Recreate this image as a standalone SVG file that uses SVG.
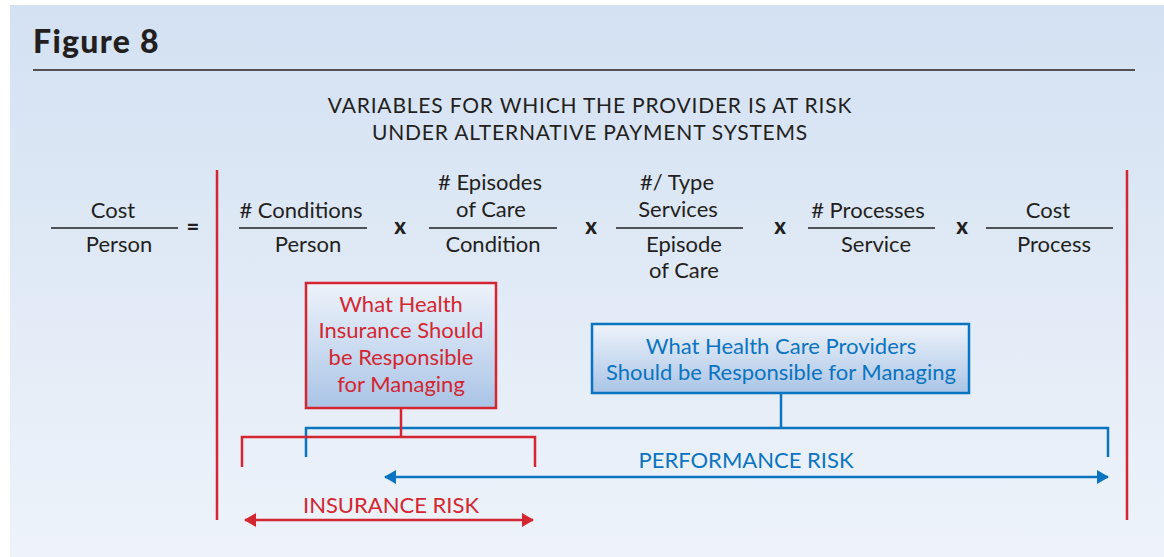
<svg xmlns="http://www.w3.org/2000/svg" width="1164" height="557" viewBox="0 0 1164 557">
<defs>
<linearGradient id="bg" x1="0" y1="0" x2="0" y2="1">
<stop offset="0" stop-color="#d3e1f2"/>
<stop offset="1" stop-color="#eef3fa"/>
</linearGradient>
<linearGradient id="boxfill" x1="0" y1="0" x2="0" y2="1">
<stop offset="0" stop-color="#eef3fb"/>
<stop offset="1" stop-color="#a9c4e6"/>
</linearGradient>
<marker id="redHead" viewBox="0 0 12 14" refX="11" refY="7" markerWidth="12" markerHeight="14" markerUnits="userSpaceOnUse" orient="auto-start-reverse">
<path d="M0,0 L12,7 L0,14 Z" fill="#d42630"/>
</marker>
<marker id="blueHead" viewBox="0 0 12 14" refX="11" refY="7" markerWidth="12" markerHeight="14" markerUnits="userSpaceOnUse" orient="auto-start-reverse">
<path d="M0,0 L12,7 L0,14 Z" fill="#0b74c0"/>
</marker>
</defs>
<style>
text{font-family:"Lato","Open Sans","Liberation Sans",sans-serif;}
.eq{font-size:22px;fill:#231f20;text-anchor:middle;}
.op{font-size:22px;font-weight:900;fill:#231f20;text-anchor:middle;}
.frac{stroke:#231f20;stroke-width:1.5;}
.red{stroke:#d42630;stroke-width:2.5;fill:none;}
.blue{stroke:#0b74c0;stroke-width:2.5;fill:none;}
.rt{fill:#d42630;font-size:22px;text-anchor:middle;}
.bt{fill:#0b74c0;font-size:22px;text-anchor:middle;}
</style>
<rect x="0" y="0" width="1164" height="557" fill="#ffffff"/>
<rect x="10" y="5" width="1154" height="552" fill="url(#bg)"/>
<text x="33" y="53" font-size="32" font-weight="900" fill="#231f20" letter-spacing="1.3">Figure 8</text>
<line x1="33" y1="70" x2="1135" y2="70" stroke="#231f20" stroke-width="1.5"/>
<text x="590" y="113" font-size="21" fill="#231f20" text-anchor="middle" letter-spacing="0.8">VARIABLES FOR WHICH THE PROVIDER IS AT RISK</text>
<text x="590" y="140" font-size="21" fill="#231f20" text-anchor="middle" letter-spacing="0.8">UNDER ALTERNATIVE PAYMENT SYSTEMS</text>

<g id="bounds">
<line class="red" x1="217" y1="170" x2="217" y2="520"/>
<line class="red" x1="1127" y1="170" x2="1127" y2="520"/>
</g>

<g id="equation">
<line class="frac" x1="51" y1="228" x2="178" y2="228"/>
<text class="eq" x="113" y="218">Cost</text>
<text class="eq" x="119" y="252">Person</text>
<text class="op" x="193" y="235">=</text>

<line class="frac" x1="239" y1="228" x2="367" y2="228"/>
<text class="eq" x="301" y="218"># Conditions</text>
<text class="eq" x="308" y="252">Person</text>
<text class="op" x="400" y="234">x</text>

<line class="frac" x1="429" y1="228" x2="557" y2="228"/>
<text class="eq" x="490" y="190"># Episodes</text>
<text class="eq" x="491" y="217">of Care</text>
<text class="eq" x="493" y="252">Condition</text>
<text class="op" x="591" y="234">x</text>

<line class="frac" x1="616" y1="228" x2="743" y2="228"/>
<text class="eq" x="677" y="190">#/ Type</text>
<text class="eq" x="678" y="217">Services</text>
<text class="eq" x="684" y="252">Episode</text>
<text class="eq" x="684" y="278">of Care</text>
<text class="op" x="780" y="234">x</text>

<line class="frac" x1="808" y1="228" x2="935" y2="228"/>
<text class="eq" x="868" y="218"># Processes</text>
<text class="eq" x="876" y="252">Service</text>
<text class="op" x="962" y="234">x</text>

<line class="frac" x1="986" y1="228" x2="1113" y2="228"/>
<text class="eq" x="1048" y="218">Cost</text>
<text class="eq" x="1054" y="252">Process</text>
</g>

<g id="connectors">
<polyline class="blue" points="306,457 306,428 1108,428 1108,457"/>
<line class="blue" x1="781" y1="393" x2="781" y2="428"/>
<polyline class="red" points="242,467 242,437 535,437 535,467"/>
<line class="red" x1="401" y1="408" x2="401" y2="437"/>
<line class="blue" x1="385" y1="477" x2="1108" y2="477" marker-start="url(#blueHead)" marker-end="url(#blueHead)"/>
<line class="red" x1="245" y1="520" x2="533" y2="520" marker-start="url(#redHead)" marker-end="url(#redHead)"/>
</g>

<g id="insurance-box">
<rect x="306" y="283" width="190" height="125" fill="url(#boxfill)" stroke="#d42630" stroke-width="2.5"/>
<text class="rt" x="401" y="312">What Health</text>
<text class="rt" x="401" y="338">Insurance Should</text>
<text class="rt" x="401" y="365">be Responsible</text>
<text class="rt" x="401" y="392">for Managing</text>
</g>

<g id="provider-box">
<rect x="592" y="324" width="377" height="69" fill="url(#boxfill)" stroke="#0b74c0" stroke-width="2.5"/>
<text class="bt" x="781" y="354">What Health Care Providers</text>
<text class="bt" x="781" y="380">Should be Responsible for Managing</text>
</g>

<g id="labels">
<text class="bt" x="746" y="468">PERFORMANCE RISK</text>
<text class="rt" x="391" y="513">INSURANCE RISK</text>
</g>
</svg>
